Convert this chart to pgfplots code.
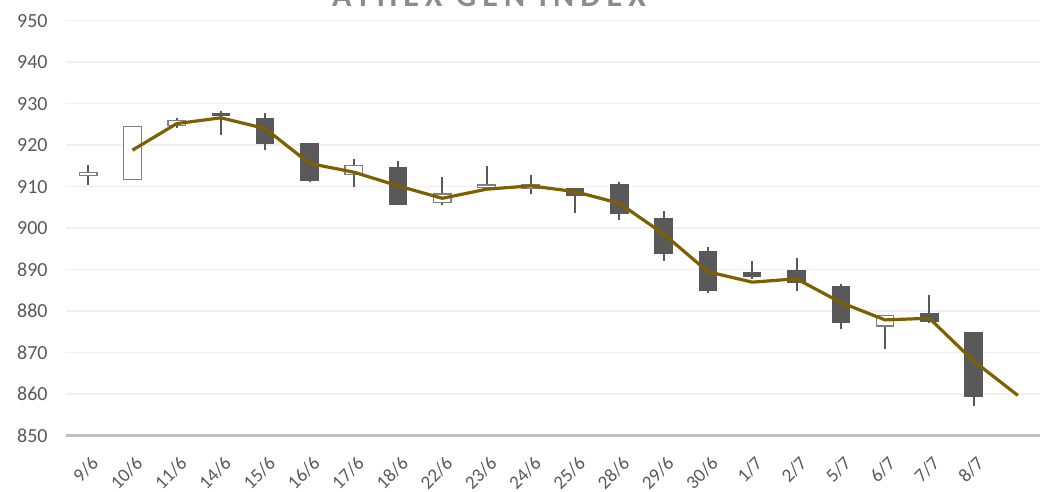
\documentclass[border=0pt]{standalone}
\usepackage{pgfplots}
\pgfplotsset{compat=1.18}
\usepackage{pgfplotstable}
\usepackage{fontspec}
\setmainfont{Carlito}
\newfontfamily\titlefont[LetterSpace=19]{Carlito}
\definecolor{tickgray}{HTML}{595959}
\definecolor{gridgray}{HTML}{F0F0F0}
\definecolor{axisgray}{HTML}{BFBFBF}
\definecolor{candledark}{HTML}{595959}
\definecolor{outlinegray}{HTML}{7F7F7F}
\definecolor{linegold}{HTML}{7F6000}
\definecolor{titlegray}{HTML}{8C8C8C}

% up candles (close > open): white body
\pgfplotstableread{
x  open  high  low   close
0  912.6 915.2 910.4 913.6
1  911.6 924.7 911.6 924.7
2  924.6 926.5 924.1 926.1
6  912.8 916.6 909.9 915.2
8  906.1 912.3 905.5 908.4
9  909.6 915.0 909.6 910.6
10 909.4 912.8 908.2 910.6
18 876.3 879.1 870.9 879.1
}\upcandles

% down candles (close < open): dark body
\pgfplotstableread{
x  open  high  low   close
3  927.8 928.2 922.5 927.0
4  926.5 927.8 918.8 920.2
5  920.5 920.5 911.1 911.4
7  914.8 916.2 905.6 905.6
11 909.8 909.8 903.7 907.8
12 910.7 911.1 902.0 903.4
13 902.4 904.1 892.2 893.9
14 894.6 895.4 884.3 884.9
15 889.5 892.1 887.8 888.3
16 889.9 892.9 884.9 886.7
17 886.1 886.5 875.7 877.1
19 879.6 883.9 877.1 877.5
20 874.9 874.9 857.2 859.4
}\downcandles

% trend line
\pgfplotstableread{
x  y
1  918.8
2  925.2
3  926.6
4  924.0
5  915.6
6  913.5
7  910.2
8  907.2
9  909.4
10 910.2
11 908.8
12 906.0
13 898.6
14 889.5
15 887.0
16 887.8
17 882.1
18 877.9
19 878.3
20 868.0
21 859.7
}\trend

\pgfplotsset{
  wick/.style={draw=none, mark=none, forget plot,
    error bars/y dir=plus, error bars/y explicit, error bars/error mark=none,
    error bars/error bar style={draw=candledark, line width=1pt}},
  body/.style 2 args={draw=none, mark=none, forget plot,
    error bars/y dir=plus, error bars/y explicit, error bars/error mark=none,
    error bars/error bar style={draw=#1, line width=#2}},
}

\begin{document}
\begin{tikzpicture}
\begin{axis}[
  scale only axis, width=487pt, height=207.5pt,
  xmin=-0.5, xmax=21.5, ymin=850, ymax=950,
  ytick={850,860,...,950},
  xtick={0,...,20},
  xticklabels={9/6,10/6,11/6,14/6,15/6,16/6,17/6,18/6,22/6,23/6,24/6,25/6,28/6,29/6,30/6,1/7,2/7,5/7,6/7,7/7,8/7},
  axis x line*=bottom, axis y line*=left,
  x axis line style={draw=axisgray, line width=1.3pt},
  y axis line style={draw=none},
  major tick length=0pt,
  ymajorgrids, grid style={draw=gridgray, line width=0.7pt},
  tick label style={font=\fontsize{10}{12}\selectfont, text=tickgray},
  /pgf/number format/assume math mode=true,
  yticklabel style={anchor=east, inner sep=0pt, xshift=-9pt},
  xticklabel style={font=\fontsize{9.5}{11}\selectfont, xshift=1pt, yshift=-9.5pt, rotate=45, anchor=north east, inner sep=0pt},
]
% wicks
\addplot[wick] table[x=x, y=low, y error expr={\thisrow{high}-\thisrow{low}}] {\upcandles};
\addplot[wick] table[x=x, y=low, y error expr={\thisrow{high}-\thisrow{low}}] {\downcandles};
% dark bodies
\addplot[body={candledark}{9.2pt}] table[x=x, y=close, y error expr={\thisrow{open}-\thisrow{close}}] {\downcandles};
% white bodies: outline then interior
\addplot[body={outlinegray}{9.4pt}] table[x=x, y=open, y error expr={\thisrow{close}-\thisrow{open}}] {\upcandles};
\addplot[body={white}{8.1pt}] table[x=x, y expr={\thisrow{open}+0.32}, y error expr={\thisrow{close}-\thisrow{open}-0.64}] {\upcandles};
% trend line
\addplot[linegold, line width=1.6pt, line join=round, mark=none] table[x=x, y=y] {\trend};
\end{axis}
\node[anchor=base, font=\titlefont\bfseries\fontsize{16}{19}\selectfont, text=titlegray] at (211.5pt,214.35pt) {ATHEX GEN INDEX};
\pgfresetboundingbox
\useasboundingbox (-33pt,-28.15pt) rectangle (489pt,217.85pt);
\end{tikzpicture}
\end{document}
